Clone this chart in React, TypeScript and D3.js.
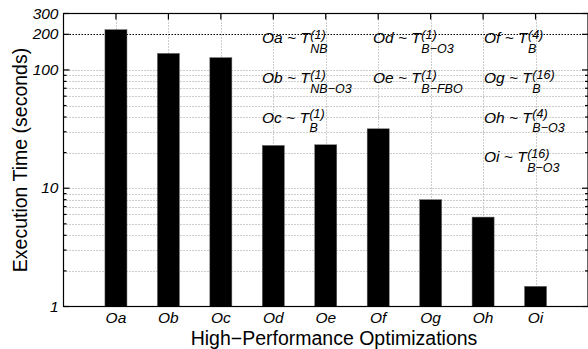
import { useEffect, useRef } from 'react';
import * as d3 from 'd3';

const CATEGORIES = ['Oa', 'Ob', 'Oc', 'Od', 'Oe', 'Of', 'Og', 'Oh', 'Oi'];
const TIMES = [219, 138, 127, 23, 23.3, 31.8, 8.0, 5.7, 1.48];
const Y_TICKS = [1, 10, 100, 200, 300];

// annotation text: "Ox ~ T" with stacked superscript / subscript
const NOTE_NAMES = ['Oa', 'Ob', 'Oc', 'Od', 'Oe', 'Of', 'Og', 'Oh', 'Oi'];
const NOTE_SUPS = ['(1)', '(1)', '(1)', '(1)', '(1)', '(4)', '(16)', '(4)', '(16)'];
const NOTE_SUBS = ['NB', 'NB\u2212O3', 'B', 'B\u2212O3', 'B\u2212FBO', 'B', 'B', 'B\u2212O3', 'B\u2212O3'];
const NOTE_COLUMNS = [0, 0, 0, 1, 1, 2, 2, 2, 2];
const NOTE_ROWS = [0, 1, 2, 0, 1, 0, 1, 2, 3];

const W = 588;
const H = 349;
const FONT = '"Liberation Sans", Arial, Helvetica, sans-serif';

export default function App() {
  const svgRef = useRef<SVGSVGElement>(null);

  useEffect(() => {
    if (!svgRef.current) return;
    const svg = d3.select(svgRef.current);
    svg.selectAll('*').remove();

    const left = 63.5, right = 588, top = 13.5, bottom = 306.5;
    const x = d3.scaleLinear().domain([0, 10]).range([left, right]);
    const y = d3.scaleLog().domain([1, 300]).range([bottom, top]);
    const barW = (x(1) - x(0)) * 0.42;

    // grid
    const minor: number[] = [];
    [1, 10, 100].forEach(d => {
      for (let k = 1; k <= 9; k++) if (d * k <= 300) minor.push(d * k);
    });
    const grid = svg.append('g');
    grid.selectAll('line.h').data(minor.filter(v => v > 1 && v < 300 && v !== 200)).join('line')
      .attr('x1', left).attr('x2', right)
      .attr('y1', d => Math.round(y(d)) + 0.5).attr('y2', d => Math.round(y(d)) + 0.5)
      .attr('stroke', '#9a9a9a').attr('stroke-width', 1).attr('stroke-dasharray', '1,2');
    grid.selectAll('line.v').data(CATEGORIES).join('line')
      .attr('x1', (_, i) => Math.round(x(i + 1)) + 0.5).attr('x2', (_, i) => Math.round(x(i + 1)) + 0.5)
      .attr('y1', top).attr('y2', bottom)
      .attr('stroke', '#9a9a9a').attr('stroke-width', 1).attr('stroke-dasharray', '1,2');
    grid.append('line')
      .attr('x1', left).attr('x2', right)
      .attr('y1', Math.round(y(200)) + 0.5).attr('y2', Math.round(y(200)) + 0.5)
      .attr('stroke', '#000').attr('stroke-width', 1.2).attr('stroke-dasharray', '1.5,1.5');

    // bars
    svg.append('g').selectAll('rect').data(TIMES).join('rect')
      .attr('x', (_, i) => x(i + 1) - barW / 2)
      .attr('width', barW)
      .attr('y', d => y(d))
      .attr('height', d => bottom - y(d))
      .attr('fill', '#000')
      .attr('stroke', '#666').attr('stroke-width', 0.5);

    // axes box + ticks
    const ax = svg.append('g').attr('stroke', '#000').attr('stroke-width', 1.2);
    ax.append('rect').attr('x', left).attr('y', top).attr('width', right - left).attr('height', bottom - top)
      .attr('fill', 'none');
    minor.forEach(v => {
      const len = Y_TICKS.includes(v) ? 6 : 3;
      const yy = y(v);
      ax.append('line').attr('x1', left).attr('x2', left + len).attr('y1', yy).attr('y2', yy);
      ax.append('line').attr('x1', right).attr('x2', right - len).attr('y1', yy).attr('y2', yy);
    });
    CATEGORIES.forEach((_, i) => {
      const xx = x(i + 1);
      ax.append('line').attr('x1', xx).attr('x2', xx).attr('y1', top).attr('y2', top + 6);
      ax.append('line').attr('x1', xx).attr('x2', xx).attr('y1', bottom).attr('y2', bottom - 6);
    });

    // tick labels
    svg.append('g').selectAll('text').data(Y_TICKS).join('text')
      .attr('x', left - 5).attr('y', d => y(d) + 5)
      .attr('text-anchor', 'end')
      .attr('font-family', FONT).attr('font-style', 'italic').attr('font-size', 15.5)
      .text(d => String(d));
    svg.append('g').selectAll('text').data(CATEGORIES).join('text')
      .attr('x', (_, i) => x(i + 1)).attr('y', bottom + 16)
      .attr('text-anchor', 'middle')
      .attr('font-family', FONT).attr('font-style', 'italic').attr('font-size', 15.5)
      .text(d => d);

    // axis titles
    svg.append('text')
      .attr('x', 334).attr('y', 345)
      .attr('text-anchor', 'middle')
      .attr('font-family', FONT).attr('font-size', 19.5)
      .text('High\u2212Performance Optimizations');
    svg.append('text')
      .attr('transform', `translate(27,${(top + bottom) / 2}) rotate(-90)`)
      .attr('text-anchor', 'middle')
      .attr('font-family', FONT).attr('font-size', 19.5)
      .text('Execution Time (seconds)');

    // annotations
    const colX = [262, 373, 484];
    const rowY = [43, 83, 122.5, 162];
    const notes = svg.append('g').attr('font-family', FONT).attr('font-style', 'italic');
    NOTE_NAMES.forEach((name, i) => {
      const nx = colX[NOTE_COLUMNS[i]];
      const ny = rowY[NOTE_ROWS[i]];
      const main = notes.append('text')
        .attr('x', nx).attr('y', ny).attr('font-size', 15.5)
        .text(`${name} ~ T`);
      const len = (main.node() as SVGTextElement).getComputedTextLength();
      notes.append('text')
        .attr('x', nx + len + 0.5).attr('y', ny - 4.5).attr('font-size', 12.5)
        .text(NOTE_SUPS[i]);
      notes.append('text')
        .attr('x', nx + len + 0.5).attr('y', ny + 9.5).attr('font-size', 12.5)
        .text(NOTE_SUBS[i]);
    });
  }, []);

  return (
    <svg ref={svgRef} width={W} height={H}
      style={{ position: 'absolute', left: 0, top: 0, background: '#fff' }} />
  );
}
